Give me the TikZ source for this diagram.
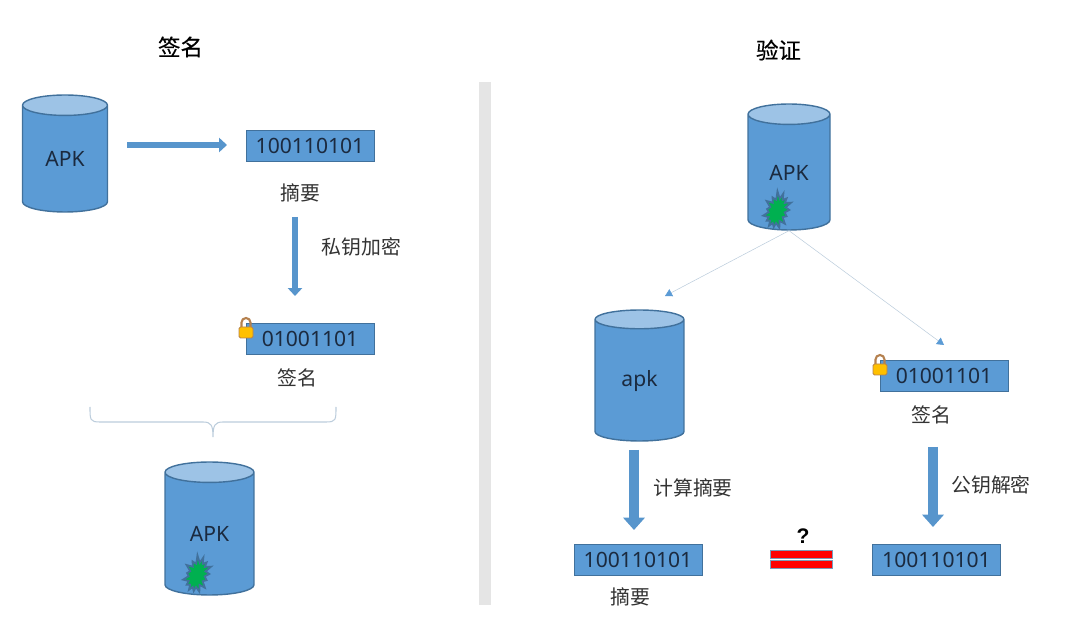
\documentclass[tikz,border=0pt]{standalone}
\usepackage{fontspec}
\setmainfont{Noto Sans}
\newfontfamily\cjk{Noto Sans CJK SC}
\newfontfamily\cjkhead[FakeBold=0.4]{Noto Sans CJK SC}
\newfontfamily\askfont{Liberation Sans}
\usetikzlibrary{arrows.meta, shapes.geometric, shapes.symbols}

\definecolor{boxblue}{HTML}{5B9BD5}
\definecolor{edgeblue}{HTML}{41719C}
\definecolor{topblue}{HTML}{9DC3E6}
\definecolor{inkblue}{HTML}{1B2A3F}
\definecolor{lockgold}{HTML}{FFC000}
\definecolor{lockbrown}{HTML}{B5814F}
\definecolor{burstgreen}{HTML}{00B050}

\tikzset{
    barrel/.style={cylinder, shape border rotate=90, shape aspect=0.52, cylinder uses custom fill,
        cylinder body fill=boxblue, cylinder end fill=topblue, draw=edgeblue, line width=0.8pt,
        text=inkblue, font=\fontsize{12}{14}\selectfont, inner sep=0pt, anchor=shape center},
    bitbox/.style={rectangle, fill=boxblue, draw=edgeblue, line width=0.5pt, minimum width=2.56cm,
        minimum height=0.62cm, text=inkblue, inner sep=0pt, font=\fontsize{12}{14}\selectfont},
    caption/.style={text=black!80, font=\cjk\fontsize{11.3}{13}\selectfont},
    heading/.style={text=black, font=\cjkhead\fontsize{12.8}{15}\selectfont},
    bigarrow/.style={draw=boxblue!85!edgeblue, line width=3.4pt, -{Triangle[length=4.5pt, width=8pt]}},
    fatarrow/.style={draw=boxblue!85!edgeblue, line width=6pt, -{Triangle[length=7pt, width=12pt]}},
    thinarrow/.style={draw=edgeblue!35, line width=0.3pt, -{Triangle[length=4pt, width=4.5pt, color=boxblue, fill=boxblue]}},
    burst/.style={starburst, starburst points=15, starburst point height=0.16cm, random starburst=11,
        fill=burstgreen, draw=edgeblue, line width=1pt, inner xsep=0.11cm, inner ysep=0.18cm, rotate=-20},
    redbar/.style={rectangle, fill=red, draw=edgeblue!70, line width=0.6pt, minimum width=1.25cm,
        minimum height=0.17cm, inner sep=0pt}
}

% padlock drawn beside a box
\newcommand{\padlock}[2]{
    \draw[lockbrown, line width=1.2pt] (#1-4.5,#2-2) -- (#1-4.5,#2-6.5)
        arc (180:360:4.5) -- (#1+4.5,#2-2);
    \draw[fill=lockgold, draw=lockbrown, line width=0.5pt, rounded corners=0.8pt]
        (#1-7,#2+9) rectangle (#1+7,#2-2);
}

\begin{document}
\begin{tikzpicture}[x=0.02cm, y=-0.02cm, >=stealth]
    \useasboundingbox (0,0) rectangle (1075,624);

    % divider
    \fill[black!10] (479,82) rectangle (491,605);

    \node[heading] (signTitle) at (180.5,47) {签名};
    \node[heading] (verifyTitle) at (778.5,50) {验证};

    % signing side
    \node[barrel, minimum width=1.7cm, minimum height=2.34cm] (apkSign) at (65,153.5) {APK};
    \node[bitbox] (digestSign) at (310,145.5) {100110101};
    \node[caption] (digestSignText) at (300,193) {摘要};
    \node[caption] (encryptText) at (361.5,247) {私钥加密};
    \node[bitbox] (cipherSign) at (310,338.5) {01001101};
    \node[caption] (cipherSignText) at (297,378) {签名};
    \node[barrel, minimum width=1.78cm, minimum height=2.66cm] (apkSigned) at (209.5,528.5) {APK};
    \node[burst] (burstSigned) at (197,575) {};
    \coordinate (signStart) at (127,145);
    \coordinate (signEnd) at (227,145);
    \coordinate (encryptStart) at (295,217);
    \coordinate (encryptEnd) at (295,296);
    \coordinate (braceLeft) at (90,407);
    \coordinate (braceRight) at (336,407);
    \coordinate (braceTip) at (213,437);

    \draw[bigarrow] (signStart) -- (signEnd);
    \draw[bigarrow] (encryptStart) -- (encryptEnd);
    \padlock{246}{329}

    \draw[edgeblue!35, line width=0.6pt] (braceLeft) .. controls (90,420) and (90,422) .. (100,422)
        -- (203,422) .. controls (211,422) and (213,425) .. (braceTip)
        .. controls (213,425) and (215,422) .. (223,422) -- (326,422)
        .. controls (336,422) and (336,420) .. (braceRight);

    % verifying side
    \node[barrel, minimum width=1.64cm, minimum height=2.52cm] (apkVerify) at (789,167) {APK};
    \node[burst] (burstVerify) at (777,211) {};
    \node[barrel, minimum width=1.78cm, minimum height=2.62cm] (apkPlain) at (639.5,375.5) {apk};
    \node[bitbox] (cipherVerify) at (944,375.5) {01001101};
    \node[caption] (cipherVerifyText) at (931.5,415) {签名};
    \node[bitbox] (digestLeft) at (638,559.5) {100110101};
    \node[caption] (digestLeftText) at (630,597) {摘要};
    \node[bitbox] (digestRight) at (936.5,559.5) {100110101};
    \node[caption] (computeText) at (693,488) {计算摘要};
    \node[caption] (decryptText) at (991,485) {公钥解密};
    \node[redbar] (barUp) at (801.5,554.5) {};
    \node[redbar] (barDown) at (801.5,564.5) {};
    \node[font=\askfont\bfseries\fontsize{12}{14}\selectfont] (askText) at (803,536) {?};

    \coordinate (leftEnd) at (665,296);
    \coordinate (rightEnd) at (944,345);
    \coordinate (computeStart) at (634,450);
    \coordinate (computeEnd) at (634,530);
    \coordinate (decryptStart) at (933,447);
    \coordinate (decryptEnd) at (933,527);

    \draw[thinarrow] (apkVerify.south) -- (leftEnd);
    \draw[thinarrow] (apkVerify.south) -- (rightEnd);
    \draw[fatarrow] (computeStart) -- (computeEnd);
    \draw[fatarrow] (decryptStart) -- (decryptEnd);
    \padlock{880}{366}

\end{tikzpicture}
\end{document}
